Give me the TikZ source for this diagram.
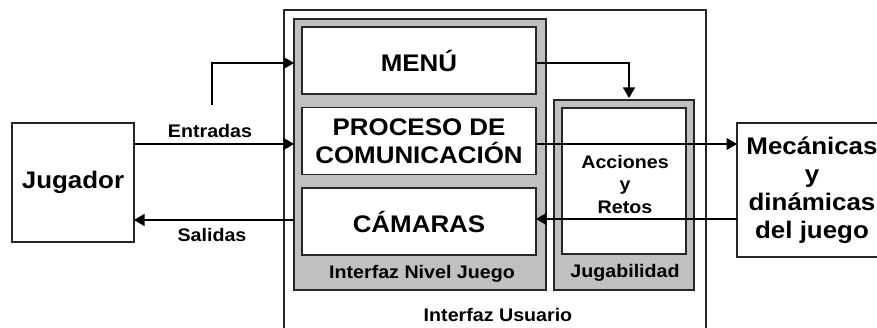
\documentclass[tikz,border=0pt]{standalone}
\usepackage{fontspec}
\setmainfont[FakeStretch=1.08]{Liberation Sans}
\usetikzlibrary{arrows.meta}
\definecolor{boxgray}{HTML}{C0C0C0}
\begin{document}
\begin{tikzpicture}[x=1pt,y=-1pt,
  line width=1.2pt,
  every node/.style={inner sep=0pt, outer sep=0pt, font=\bfseries},
  whitebox/.style={draw=black!85, fill=white, line width=1.3pt, align=center},
  graybox/.style={draw=black!85, fill=boxgray, line width=1.3pt},
  big/.style={font=\fontsize{24}{28}\selectfont\bfseries},
  small/.style={font=\fontsize{18.2}{22.5}\selectfont\bfseries},
  arr/.style={-{Triangle[length=10.5pt,width=12pt]}, line width=1.2pt}
]
\useasboundingbox (0,0) rectangle (877,328);
\clip (0,0) rectangle (877,328);
% outer box
\node[draw=black!85, line width=1.3pt, minimum width=422pt, minimum height=340pt] (iu) at (495,180) {};
\node[small] (iulbl) at (498,315) {Interfaz Usuario};
% Interfaz nivel juego
\node[graybox, minimum width=252pt, minimum height=271pt] (inj) at (420,154.5) {};
\node[small] (injlbl) at (422,274) {Interfaz Nivel Juego};
\node[whitebox, big, minimum width=234pt, minimum height=67pt] (menu) at (419,60.5) {MENÚ};
\node[whitebox, big, minimum width=234pt, minimum height=67pt] (proc) at (419,141) {PROCESO DE\\COMUNICACIÓN};
\node[whitebox, big, minimum width=234pt, minimum height=67pt] (cam) at (419,221.5) {CÁMARAS};
% Jugabilidad
\node[graybox, minimum width=140pt, minimum height=190pt] (jgb) at (624,195) {};
\node[whitebox, minimum width=124pt, minimum height=146pt] (ayr) at (624,181) {};
\node[small, align=center] (ayrlbl) at (625,184) {Acciones\\y\\Retos};
\node[small] (jgblbl) at (625,273) {Jugabilidad};
% Jugador
\node[whitebox, big, minimum width=122pt, minimum height=119pt] (jug) at (73,182.5) {Jugador};
% Mecanicas
\node[whitebox, big, minimum width=150pt, minimum height=134pt] (mec) at (812,190) {Mecánicas\\y\\dinámicas\\del juego};
% connector anchors
\coordinate (e0) at (212,105);
\coordinate (menuin) at (294,63);
\coordinate (procin) at (294,144);
\coordinate (camout) at (294,220);
\coordinate (menuout) at (536,63);
\coordinate (jgbtop) at (629,98);
\coordinate (procout) at (536,144);
\coordinate (camin) at (536,219);
% arrows
\draw[arr] (e0) |- (menuin);
\draw[arr] (jug.east |- procin) -- (procin);
\draw[arr] (camout) -- (jug.east |- camout);
\draw[arr] (menuout) -| (jgbtop);
\draw[arr] (procout) -- (mec.west |- procout);
\draw[arr] (mec.west |- camin) -- (camin);
% labels
\node[small] (entr) at (210,131) {Entradas};
\node[small] (sal) at (212,235) {Salidas};
\end{tikzpicture}
\end{document}
